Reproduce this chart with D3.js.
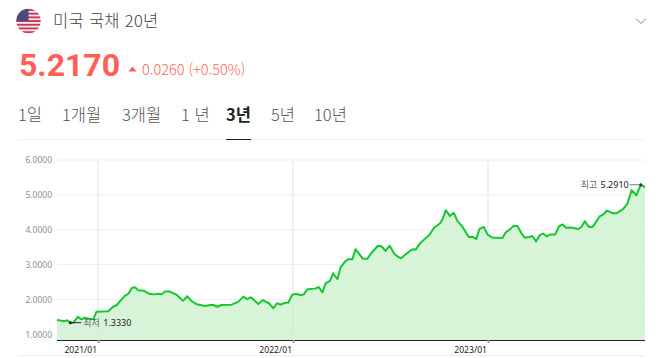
<!DOCTYPE html>
<html lang="ko"><head><meta charset="utf-8">
<script src="https://cdn.jsdelivr.net/npm/d3@7/dist/d3.min.js"></script>
<style>html,body{margin:0;padding:0;background:#fff}svg{display:block}
text{font-family:"Noto Sans CJK KR","Noto Sans",sans-serif}</style></head><body><svg id="c" width="667" height="358"></svg>
<script>
const title = "미국 국채 20년";
const priceText = "5.2170";
const changeText = "0.0260 (+0.50%)";
const tabs = ["1일","1개월","3개월","1 년","3년","5년","10년"];
const activeTab = "3년";
const startDate = new Date(2020,9,16);
const yTicks = [1,2,3,4,5,6];
const xTicks = [new Date(2021,0,1),new Date(2022,0,1),new Date(2023,0,1)];
const lowLabel = {name:"최저", value:"1.3330"};
const highLabel = {name:"최고", value:"5.2910"};
const dayOffsets = [0,9,13,19,25,31,39,46,52,60,68,74,96,105,112,121,127,134,140,146,152,162,174,183,190,196,202,210,224,236,244,252,262,277,287,293,300,308,327,339,349,356,363,377,385,397,405,412,419,427,433,436,441,449,457,462,469,483,490,497,503,511,517,525,531,539,545,553,559,573,581,589,601,608,615,623,631,639,644,659,666,672,680,698,706,717,722,728,736,743,750,758,771,778,785,791,799,806,814,834,840,848,855,862,870,876,884,890,897,904,910,917,924,933,940,947,953,963,976,982,988,996,1003,1016,1024,1030,1041,1048,1060,1068,1076,1085,1093,1101];
const rates = [1.41,1.39,1.375,1.40,1.333,1.34,1.50,1.43,1.475,1.445,1.43,1.65,1.66,1.79,1.84,2.00,2.10,2.17,2.33,2.35,2.26,2.25,2.155,2.145,2.16,2.145,2.23,2.23,2.135,1.96,2.09,1.95,1.86,1.81,1.84,1.84,1.79,1.84,1.85,1.93,2.08,2.01,2.06,1.87,1.98,1.89,1.745,1.89,1.85,1.905,1.905,2.00,2.145,2.155,2.12,2.145,2.29,2.31,2.355,2.20,2.46,2.535,2.75,2.58,2.92,3.08,3.15,3.15,3.44,3.165,3.165,3.34,3.54,3.52,3.39,3.54,3.32,3.22,3.18,3.37,3.44,3.435,3.615,3.865,4.055,4.18,4.30,4.56,4.39,4.485,4.245,4.11,3.79,3.80,3.73,4.02,4.08,3.865,3.78,3.76,3.92,4.01,4.11,4.11,3.89,3.77,3.79,3.82,3.665,3.845,3.89,3.81,3.865,3.865,4.10,4.15,4.055,4.065,4.02,4.08,4.245,4.08,4.08,4.38,4.45,4.55,4.47,4.475,4.59,4.75,5.135,4.99,5.291,5.217];

const series = rates.map((v,i)=>({date:d3.timeDay.offset(startDate,dayOffsets[i]),v}));
const svg = d3.select("#c");
const red = "#ff5f57";

// header
const defs = svg.append("defs");
defs.append("clipPath").attr("id","flag").append("circle").attr("cx",28.5).attr("cy",21).attr("r",12.2);
const flag = svg.append("g").attr("clip-path","url(#flag)");
flag.append("rect").attr("x",15).attr("y",8).attr("width",27).attr("height",26).attr("fill","#f4eef0");
d3.range(7).forEach(i=>flag.append("rect").attr("x",15).attr("y",9+i*3.7).attr("width",27).attr("height",1.9).attr("fill","#c8394f"));
flag.append("rect").attr("x",15).attr("y",8).attr("width",13.5).attr("height",13).attr("fill","#4a4a80");
svg.append("text").text(title).attr("x",53).attr("y",27).attr("font-size",16.5).attr("font-weight",300).attr("fill","#444").attr("letter-spacing",0.3);
svg.append("path").attr("d","M636 18.5L641 23.5L646 18.5").attr("fill","none").attr("stroke","#888").attr("stroke-width",1);
svg.append("text").text(priceText).attr("x",19).attr("y",76).style("font-family","Roboto,'Noto Sans',sans-serif").attr("font-size",32).attr("font-weight",700).attr("fill",red);
svg.append("path").attr("d","M128.5 71.5L132.5 66.5L136.5 71.5Z").attr("fill",red);
svg.append("text").text(changeText).attr("x",142).attr("y",75).attr("font-size",14.5).attr("font-weight",300).attr("fill",red);

// tabs
const tabX = [18,62,122,181,226,271,314];
tabs.forEach((t,i)=>svg.append("text").text(t).attr("x",tabX[i]).attr("y",121)
  .attr("font-size",16.5).attr("font-weight",t===activeTab?700:300).attr("fill",t===activeTab?"#222":"#555"));
svg.append("line").attr("x1",18).attr("x2",645).attr("y1",139.5).attr("y2",139.5).attr("stroke","#f0f0f0");
svg.append("line").attr("x1",226).attr("x2",251).attr("y1",139.5).attr("y2",139.5).attr("stroke","#222");
svg.append("line").attr("x1",18).attr("x2",645).attr("y1",355.5).attr("y2",355.5).attr("stroke","#eee");

// chart
const x = d3.scaleTime().domain([startDate,d3.timeDay.offset(startDate,1101)]).range([57,645]);
const y = d3.scaleLinear().domain([0.836,6]).range([340,160]);

const yAxis = d3.axisLeft(y).tickValues(yTicks).tickFormat(d3.format(".4f")).tickSize(0).tickPadding(5);
const gy = svg.append("g").attr("transform","translate(57,0)").call(yAxis);
gy.select(".domain").remove();
gy.selectAll("text").attr("font-size",8.5).attr("fill","#8a8f99").style("font-family","'Noto Sans',sans-serif");

svg.append("g").selectAll("line").data(yTicks).join("line")
  .attr("x1",57).attr("x2",645).attr("y1",d=>y(d)).attr("y2",d=>y(d)).attr("stroke","#eeeef0").attr("stroke-width",1);
svg.append("g").selectAll("line").data(xTicks).join("line")
  .attr("x1",d=>x(d)).attr("x2",d=>x(d)).attr("y1",y(6)).attr("y2",340).attr("stroke","#f0f0f2").attr("stroke-width",2);

const area = d3.area().x(d=>x(d.date)).y0(340).y1(d=>y(d.v));
const line = d3.line().x(d=>x(d.date)).y(d=>y(d.v));
svg.append("path").datum(series).attr("d",area).attr("fill","#c4efc4").attr("fill-opacity",0.66);
svg.append("path").datum(series).attr("d",line).attr("fill","none").attr("stroke","#14c82e").attr("stroke-width",2).attr("stroke-linejoin","round");

const xAxis = d3.axisBottom(x).tickValues(xTicks).tickFormat(d3.timeFormat("%Y/%m")).tickSize(3).tickPadding(4);
const gx = svg.append("g").attr("transform","translate(0,340)").call(xAxis);
gx.select(".domain").attr("stroke","#222").attr("d","M57,0.5H645");
gx.selectAll(".tick line").attr("stroke","#999").attr("stroke-width",2);
gx.selectAll("text").attr("font-size",8.6).attr("fill","#222").attr("text-anchor","end").attr("dx",-1.5).style("font-family","'Noto Sans',sans-serif");

// min / max callouts
const lo = series[rates.indexOf(d3.min(rates))], hi = series[rates.indexOf(d3.max(rates))];
const callout = (pt,dir,lab,stroke)=>{
  const px=x(pt.date), py=y(pt.v);
  svg.append("circle").attr("cx",px).attr("cy",py).attr("r",1.5).attr("fill","#222");
  svg.append("line").attr("x1",px).attr("x2",px+dir*11).attr("y1",py).attr("y2",py).attr("stroke",stroke).attr("stroke-width",1);
  const t = svg.append("text").attr("y",py+3.5).attr("font-size",9);
  if(dir>0){ t.attr("x",px+13).attr("text-anchor","start"); } else { t.attr("x",px-12).attr("text-anchor","end"); }
  t.append("tspan").text(lab.name).attr("fill","#666");
  t.append("tspan").text(" "+lab.value).attr("fill","#222").attr("dx",1).style("font-family","'Noto Sans',sans-serif");
};
callout(lo,1,lowLabel,"#222");
callout(hi,-1,highLabel,"#777");
</script></body></html>
